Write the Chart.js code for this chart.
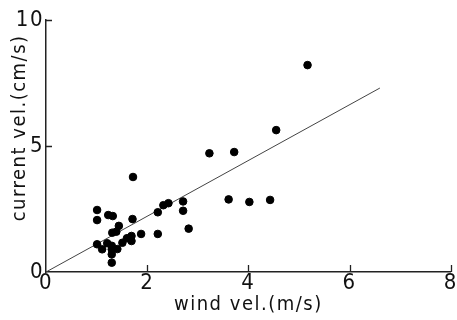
<!DOCTYPE html>
<html>
<head>
<meta charset="utf-8">
<script src="https://cdn.jsdelivr.net/npm/chart.js@4/dist/chart.umd.min.js"></script>
<style>
  html, body { margin: 0; padding: 0; background: #fff; }
  #wrap { width: 457px; height: 320px; }
</style>
</head>
<body>
<div id="wrap"><canvas id="chart" width="457" height="320"></canvas></div>
<script>
const windVel = [1.01, 1.01, 1.23, 1.32, 1.71, 1.44, 1.31, 1.39, 1.01, 1.11, 1.21, 1.30,
                 1.30, 1.41, 1.30, 1.30, 1.51, 1.60, 1.69, 1.69, 1.88, 2.21, 2.21, 2.32,
                 2.42, 2.71, 2.71, 2.82, 1.72, 3.23, 3.72, 3.61, 4.02, 4.43, 4.55, 5.17];
const currentVel = [2.46, 2.06, 2.26, 2.22, 2.10, 1.83, 1.56, 1.60, 1.10, 0.90, 1.14, 1.04,
                    0.90, 0.91, 0.70, 0.37, 1.16, 1.34, 1.43, 1.23, 1.51, 1.51, 2.37, 2.65,
                    2.73, 2.80, 2.43, 1.72, 3.77, 4.71, 4.76, 2.88, 2.78, 2.86, 5.63, 8.21];

// Fitted line endpoints
const fitX = [0, 6.6];
const fitY = [0, 7.3];

const xTicks = [0, 2, 4, 6, 8];
const yTicks = [0, 5, 10];

const FONT = '"Liberation Sans Narrow", "DejaVu Sans Condensed", "Liberation Sans", sans-serif';

// inward tick marks, like the printed figure
const innerTicks = {
    id: 'innerTicks',
    beforeDraw(chart) {
        chart.ctx.letterSpacing = '1.5px';
    },
    afterDraw(chart) {
        const ctx = chart.ctx;
        const xs = chart.scales.x, ys = chart.scales.y;
        const area = chart.chartArea;
        ctx.save();
        ctx.strokeStyle = '#222';
        ctx.lineWidth = 1.3;
        ctx.beginPath();
        xTicks.forEach(v => {
            if (v === 0) return;
            const px = Math.round(xs.getPixelForValue(v)) + 0.5;
            ctx.moveTo(px, area.bottom);
            ctx.lineTo(px, area.bottom - 7);
        });
        yTicks.forEach(v => {
            if (v === 0) return;
            const py = Math.round(ys.getPixelForValue(v)) + 0.5;
            ctx.moveTo(area.left, py);
            ctx.lineTo(area.left + 6, py);
        });
        ctx.stroke();
        ctx.restore();
    }
};

const ctx = document.getElementById('chart').getContext('2d');

new Chart(ctx, {
    type: 'scatter',
    data: {
        datasets: [{
            label: 'observed',
            data: windVel.map((x, i) => ({ x: x, y: currentVel[i] })),
            backgroundColor: '#000',
            borderColor: '#000',
            pointRadius: 3.8,
            pointHoverRadius: 3.8
        }, {
            label: 'fit',
            type: 'line',
            data: fitX.map((x, i) => ({ x: x, y: fitY[i] })),
            borderColor: '#444',
            borderWidth: 1,
            pointRadius: 0,
            fill: false,
            tension: 0
        }]
    },
    options: {
        responsive: false,
        animation: false,
        layout: { padding: { top: 20, right: 5, left: 0, bottom: 0 } },
        plugins: {
            legend: { display: false },
            tooltip: { enabled: false }
        },
        scales: {
            x: {
                type: 'linear',
                min: 0,
                max: 8,
                afterBuildTicks: scale => { scale.ticks = xTicks.map(v => ({ value: v })); },
                afterFit: scale => { scale.height = 48; },
                grid: { display: false, drawTicks: false },
                border: { display: true, color: '#222', width: 1.5 },
                ticks: {
                    padding: 0,
                    color: '#111',
                    maxRotation: 0,
                    font: { family: FONT, size: 22, lineHeight: 1 }
                },
                title: {
                    display: true,
                    text: 'wind vel.(m/s)',
                    color: '#111',
                    padding: { top: 0, bottom: 3 },
                    font: { family: FONT, size: 20 }
                }
            },
            y: {
                type: 'linear',
                min: 0,
                max: 10,
                afterBuildTicks: scale => { scale.ticks = yTicks.map(v => ({ value: v })); },
                afterFit: scale => { scale.width = 46; },
                grid: { display: false, drawTicks: false },
                border: { display: true, color: '#222', width: 1.5 },
                ticks: {
                    padding: 2,
                    color: '#111',
                    font: { family: FONT, size: 22, lineHeight: 1 }
                },
                title: {
                    display: true,
                    text: 'current vel.(cm/s)  ',
                    align: 'end',
                    color: '#111',
                    padding: { top: 8, bottom: 0 },
                    font: { family: FONT, size: 20 }
                }
            }
        }
    },
    plugins: [innerTicks]
});
</script>
</body>
</html>
